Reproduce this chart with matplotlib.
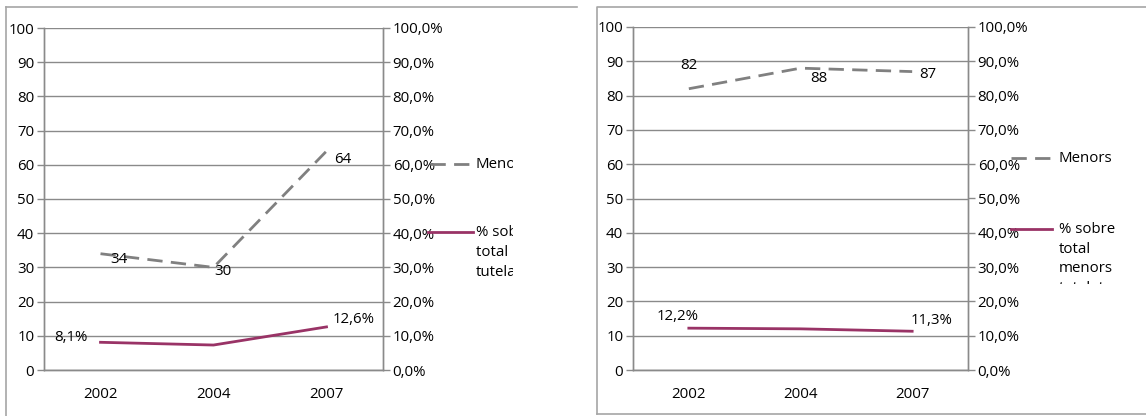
import matplotlib
matplotlib.use("Agg")
import matplotlib.pyplot as plt
from matplotlib.ticker import FuncFormatter, MultipleLocator
from matplotlib.lines import Line2D

plt.rcParams['font.family'] = ['Open Sans', 'DejaVu Sans']

# ---- data -------------------------------------------------------------
years = ['2002', '2004', '2007']

menors_a = [34, 30, 64]          # left chart: number of minors
pct_a = [8.1, 7.3, 12.6]         # left chart: % over total minors in care

menors_b = [82, 88, 87]          # right chart: number of minors
pct_b = [12.2, 12.0, 11.3]       # right chart: % over total minors in care

series_name_1 = 'Menors'
series_name_2 = ['% sobre', 'total menors', 'tutelats']
series_name_2_narrow = ['% sobre', 'total', 'menors', 'tutelats']

# ---- style ------------------------------------------------------------
W, H = 1146, 416
GRID = '#8a8a8a'
GRAY = '#808080'
PLUM = '#993366'
BORDER = '#a6a6a6'
FS = 10.8
DASH = (5.5, 3.0)

fig = plt.figure(figsize=(W / 100, H / 100), dpi=100)


def px_axes(x0, y0, x1, y1):
    """Axes placed by image pixel box (y measured from top)."""
    return fig.add_axes([x0 / W, 1 - y1 / H, (x1 - x0) / W, (y1 - y0) / H])


def pct_fmt(v, _):
    return f'{v:.1f}'.replace('.', ',') + '%'


def draw_chart(box, menors, pct, menors_offsets, pct_offsets, pct_labelled):
    ax = px_axes(*box)
    ax2 = ax.twinx()
    x = list(range(len(years)))

    for a in (ax, ax2):
        a.set_xlim(-0.5, len(years) - 0.5)
        a.set_ylim(0, 100)
        for s in a.spines.values():
            s.set_color(GRID)
            s.set_linewidth(1.0)
        a.spines['top'].set_visible(False)
        a.set_facecolor('none')

    ax.yaxis.set_major_locator(MultipleLocator(10))
    ax2.yaxis.set_major_locator(MultipleLocator(10))
    ax2.yaxis.set_major_formatter(FuncFormatter(pct_fmt))
    ax.grid(axis='y', color=GRID, linewidth=1.0)
    ax.set_axisbelow(True)

    ax.tick_params(axis='y', length=5, width=1, color=GRID, pad=2, labelsize=FS)
    ax2.tick_params(axis='y', length=5, width=1, color=GRID, pad=2, labelsize=FS)

    # category boundaries as ticks, labels centred between them
    ax.set_xticks([i - 0.5 for i in range(len(years) + 1)])
    ax.set_xticklabels([])
    ax.set_xticks(x, minor=True)
    ax.set_xticklabels(years, minor=True)
    ax.tick_params(axis='x', which='major', length=5, width=1, color=GRID)
    ax.tick_params(axis='x', which='minor', length=0, pad=12, labelsize=FS)
    ax2.set_xticks([])

    ax.plot(x, menors, color=GRAY, linewidth=2.0, dashes=DASH,
            solid_capstyle='butt', zorder=3)
    ax2.plot(x, pct, color=PLUM, linewidth=2.0, zorder=3)

    for xi, v, off in zip(x, menors, menors_offsets):
        ax.annotate(f'{v}', (xi, v), xytext=off, textcoords='offset pixels',
                    ha='center', va='center', fontsize=FS, zorder=4)
    for xi, v, off, show in zip(x, pct, pct_offsets, pct_labelled):
        if show:
            ax2.annotate(pct_fmt(v, None), (xi, v), xytext=off,
                         textcoords='offset pixels', ha='center', va='center',
                         fontsize=FS, zorder=4)
    return ax


def draw_legend(box, line1, text1_x, line2, name2_lines, line_gap):
    lax = px_axes(*box)
    lax.set_xlim(box[0], box[2])
    lax.set_ylim(box[3], box[1])
    lax.axis('off')
    (x0, x1, y1) = line1
    lax.add_line(Line2D([x0, x1], [y1, y1], color=GRAY, linewidth=2.0,
                        dashes=DASH))
    lax.text(text1_x, y1, series_name_1, fontsize=FS, va='center', ha='left',
             clip_on=True)
    (x0, x1, y2) = line2
    lax.add_line(Line2D([x0, x1], [y2, y2], color=PLUM, linewidth=2.0))
    for i, t in enumerate(name2_lines):
        lax.text(text1_x, y2 + i * line_gap, t, fontsize=FS, va='center',
                 ha='left', clip_on=True)


# left chart
draw_chart((44, 28, 383, 370), menors_a, pct_a,
           menors_offsets=[(18, -6), (9, -4), (16, -8)],
           pct_offsets=[(-30, 5), (0, 0), (27, 7)],
           pct_labelled=[True, False, True])
draw_legend((420, 120, 513, 300), (430, 473, 164), 476,
            (428, 473, 232), series_name_2, 20)

# right chart
draw_chart((633, 27, 968, 370), menors_b, pct_b,
           menors_offsets=[(0, 23), (18, -10), (16, -3)],
           pct_offsets=[(-11, 12), (0, 0), (19, 11)],
           pct_labelled=[True, False, True])
draw_legend((1000, 120, 1146, 284), (1011, 1052, 158), 1059,
            (1011, 1052, 229), series_name_2_narrow, 20)

# panel frames
fig.add_artist(Line2D([6 / W, 577 / W], [1 - 7 / H, 1 - 7 / H],
                      transform=fig.transFigure, color=BORDER, linewidth=1.2))
fig.add_artist(Line2D([6 / W, 6 / W], [1 - 7 / H, 0],
                      transform=fig.transFigure, color=BORDER, linewidth=1.2))
fig.add_artist(Line2D([597 / W, 597 / W, 1.0], [0 + 2 / H, 1 - 7 / H, 1 - 7 / H],
                      transform=fig.transFigure, color=BORDER, linewidth=1.2))
fig.add_artist(Line2D([597 / W, 1.0], [2 / H, 2 / H],
                      transform=fig.transFigure, color=BORDER, linewidth=1.2))

fig.savefig('out.png', dpi=100)
